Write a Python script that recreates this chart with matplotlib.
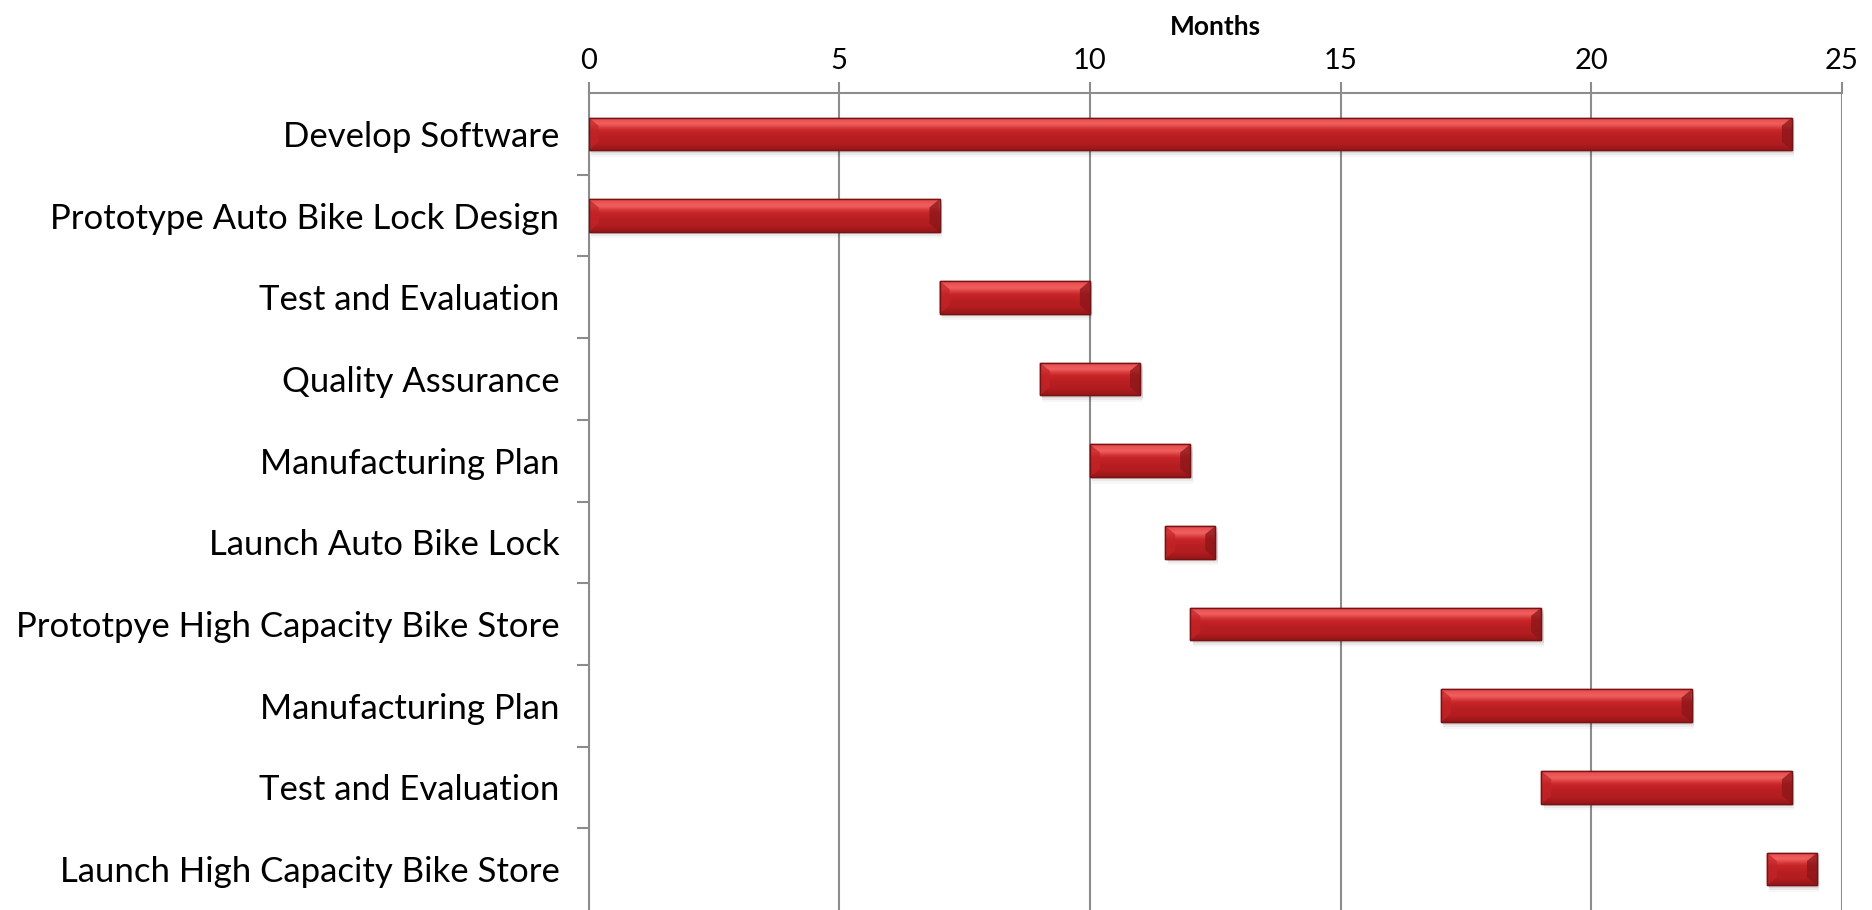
import numpy as np
import matplotlib
matplotlib.use("Agg")
import matplotlib.pyplot as plt
from matplotlib.colors import LinearSegmentedColormap
from matplotlib.patches import Polygon, Rectangle

tasks = ["Develop Software", "Prototype Auto Bike Lock Design", "Test and Evaluation",
         "Quality Assurance", "Manufacturing Plan", "Launch Auto Bike Lock",
         "Prototpye High Capacity Bike Store", "Manufacturing Plan",
         "Test and Evaluation", "Launch High Capacity Bike Store"]
start = [0, 0, 7, 9, 10, 11.5, 12, 17, 19, 23.5]
duration = [24, 7, 3, 2, 2, 1, 7, 5, 5, 1]

plt.rcParams['font.family'] = ['Lato', 'DejaVu Sans']

fig = plt.figure(figsize=(18.72, 9.10), dpi=100)
ax = fig.add_axes([0.3144, 0.0, 0.6696, 0.8978])

pos = np.arange(len(tasks))
bars = ax.barh(pos, duration, left=start, height=0.4, color='#B71E21',
               edgecolor='#7A1214', linewidth=1.0, zorder=3)

# vertical gradient for the glossy bar face
grad = LinearSegmentedColormap.from_list('bar', ['#E4494B', '#F0605F', '#C82527',
                                                 '#B81F22', '#B31D20', '#951719'])
gimg = np.linspace(0, 1, 64).reshape(-1, 1)

for b in bars:
    x0, y0, w, h = b.get_x(), b.get_y(), b.get_width(), b.get_height()
    # soft shadow underneath
    for k, a in enumerate([0.08, 0.05, 0.03]):
        ax.add_patch(Rectangle((x0 + 0.05, y0 + 0.03 + 0.025 * k), w, h,
                               facecolor='black', alpha=a, linewidth=0, zorder=1))
    im = ax.imshow(gimg, cmap=grad, aspect='auto', extent=(x0, x0 + w, y0 + h, y0),
                   interpolation='bicubic', zorder=3.5)
    im.set_clip_path(b)
    # bevelled ends
    bx, by = 0.2, 0.1
    ax.add_patch(Polygon([(x0, y0), (x0 + bx, y0 + by), (x0 + bx, y0 + h - by), (x0, y0 + h)],
                         closed=True, facecolor='#C42326', alpha=0.7, linewidth=0, zorder=4))
    ax.add_patch(Polygon([(x0 + w, y0), (x0 + w - bx, y0 + by), (x0 + w - bx, y0 + h - by),
                          (x0 + w, y0 + h)],
                         closed=True, facecolor='#8A1618', alpha=0.75, linewidth=0, zorder=4))
    ax.add_patch(Rectangle((x0, y0), w, h, facecolor='none', edgecolor='#7A1214',
                           linewidth=1.0, zorder=5))

ax.set_xlim(0, 25)
ax.set_ylim(len(tasks) - 0.5, -0.5)
ax.set_xticks(np.arange(0, 26, 5))
ax.xaxis.tick_top()
ax.xaxis.set_label_position('top')
ax.set_xlabel('Months', fontsize=19, fontweight='bold', labelpad=9)
ax.tick_params(axis='x', which='major', labelsize=21, length=8, width=1.5,
               color='#8C8C8C', pad=6, labelcolor='black')

ax.set_yticks(pos)
ax.set_yticklabels(tasks, fontsize=25)
ax.set_yticks(np.arange(0.5, len(tasks) - 0.5, 1), minor=True)
ax.tick_params(axis='y', which='major', length=0, pad=21)
ax.tick_params(axis='y', which='minor', length=9, width=1.5, color='#8C8C8C')

ax.grid(axis='x', color='#8C8C8C', linewidth=1.5, zorder=0)
ax.set_axisbelow(True)
for s in ['right', 'bottom']:
    ax.spines[s].set_visible(False)
for s in ['top', 'left']:
    ax.spines[s].set_color('#8C8C8C')
    ax.spines[s].set_linewidth(1.5)

fig.savefig('out.png', dpi=100)
